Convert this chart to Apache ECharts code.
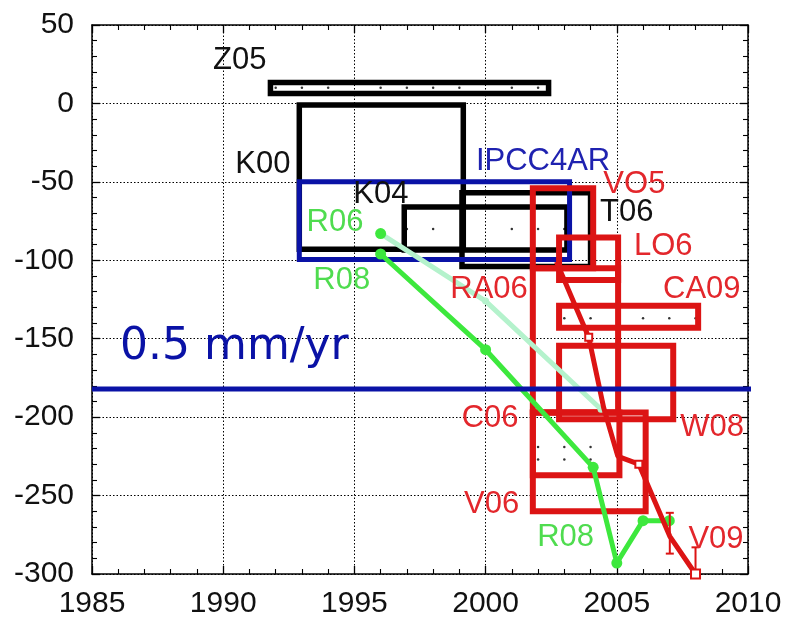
<!DOCTYPE html>
<html>
<head>
<meta charset="utf-8">
<script src="https://cdn.jsdelivr.net/npm/echarts@6/dist/echarts.min.js"></script>
<style>
  html, body { margin: 0; padding: 0; background: #fff; }
  #chart { width: 786px; height: 622px; }
</style>
</head>
<body>
<div id="chart"></div>
<script>
// ---- axis ranges ----
const yearRange = [1985, 2010];
const yearStep = 5;
const valueRange = [-300, 50];
const valueStep = 50;

// ---- estimate boxes: [start year, end year, upper value, lower value] ----
const Z05 = [1991.8, 2002.4, 13.4, 6.4];
const K00 = [1992.9, 1999.15, -1, -93];
const K04 = [1996.9, 2003.1, -66, -93.5];
const T06 = [1999.1, 2004.0, -57, -104];
const IPCC4AR = [1992.9, 2003.2, -50, -99.5];
const VO5 = [2001.8, 2004.1, -54, -105];
const LO6 = [2002.8, 2005.05, -85.5, -112.5];
const RA06 = [2001.8, 2005.05, -105, -197];
const CA09 = [2002.8, 2008.1, -129, -143];
const W08 = [2002.8, 2007.15, -154.5, -201.3];
const C06 = [2001.8, 2005.1, -197, -237];
const V06 = [2001.8, 2006.1, -197, -260];

// ---- small sample points inside some boxes ----
const Z05DotYears = [1992, 1993, 1994, 1996, 1997, 1998, 1999, 2001, 2002];
const Z05DotValue = 10;
const K04DotYears = [1997, 1998, 2001, 2002, 2003];
const K04DotValue = -80;
const CA09DotYears = [2003, 2004, 2006, 2007, 2008];
const CA09DotValue = -137;
const C06DotYears = [2002, 2003, 2004];
const C06DotValues = [-219, -227];

// ---- time series ----
const R06Years = [1996, 2000, 2004.4];
const R06Values = [-83, -126, -195];
const R08Years = [1996, 2000, 2004.1, 2005, 2006, 2007];
const R08Values = [-96, -157, -232, -293, -266, -266];
const V09Years = [2002.7, 2003.93, 2004.5, 2005.04, 2005.84, 2007.02, 2008.0];
const V09Values = [-101, -149, -194, -225, -230, -276, -300];
const V09ErrYears = [2007.02, 2008.0];
const V09ErrHigh = [-261, -283];
const V09ErrLow = [-287, -317];

// ---- reference rate line ----
const rateLevel = -182;
const rateText = '0.5 mm/yr';

// ---- annotation text and where it sits (year, value) ----
const blackLabels = [['Z05', 1990.63, 27.4], ['K00', 1991.51, -38.9], ['K04', 1996.01, -58], ['T06', 2005.38, -69.7]];
const blueLabels = [['IPCC4AR', 2002.19, -36.9]];
const redLabels = [['VO5', 2005.67, -51.6], ['LO6', 2006.77, -91.1], ['CA09', 2008.24, -118.5], ['RA06', 2000.13, -118.5],
                   ['C06', 2000.17, -200.6], ['W08', 2008.63, -206.7], ['V06', 2000.23, -255.4], ['V09', 2008.78, -277.7]];
const greenLabels = [['R06', 1994.26, -76.1], ['R08', 1994.52, -112.7], ['R08', 2003.05, -276.8]];
const rateLabelAt = [1986.07, -155.4];

const BLACK = '#000000';
const BLUE = '#0a12a6';
const RED = '#dc1414';
const RED_TEXT = '#e3272c';
const GREEN = '#3de83d';
const GREEN_TEXT = '#4fdc4f';
const PALE = '#b4f2cc';
const FONT = '"Liberation Sans", Arial, sans-serif';

function boxSeries(boxes, color, width, z) {
  return {
    type: 'custom', z: z, silent: true,
    data: boxes,
    encode: { x: [0, 1], y: [2, 3] },
    renderItem(params, api) {
      const a = api.coord([api.value(0), api.value(2)]);
      const b = api.coord([api.value(1), api.value(3)]);
      return {
        type: 'rect',
        shape: { x: a[0], y: a[1], width: b[0] - a[0], height: b[1] - a[1] },
        style: { fill: 'none', stroke: color, lineWidth: width, lineJoin: 'miter' }
      };
    }
  };
}

function labelSeries(items, color, size, family, align, z) {
  return {
    type: 'custom', z: z, silent: true,
    data: items.map(it => [it[1], it[2]]),
    encode: { x: 0, y: 1 },
    clip: false,
    renderItem(params, api) {
      const p = api.coord([api.value(0), api.value(1)]);
      return {
        type: 'text',
        x: p[0], y: p[1],
        style: {
          text: items[params.dataIndex][0], fill: color,
          font: size + 'px ' + family, align: align, verticalAlign: 'middle'
        }
      };
    }
  };
}

function zip(xs, ys) { return xs.map((x, i) => [x, ys[i]]); }
function dotRow(years, value) { return years.map(y => [y, value]); }

const dots = []
  .concat(dotRow(Z05DotYears, Z05DotValue))
  .concat(dotRow(K04DotYears, K04DotValue))
  .concat(dotRow(CA09DotYears, CA09DotValue))
  .concat(dotRow(C06DotYears, C06DotValues[0]))
  .concat(dotRow(C06DotYears, C06DotValues[1]));

const r06Data = zip(R06Years, R06Values).map((p, i) => ({
  value: p,
  symbol: 'circle',
  symbolSize: i === 0 ? 11 : 7,
  itemStyle: { color: i === 0 ? GREEN : PALE }
}));

const v09Data = zip(V09Years, V09Values).map((p, i) => {
  const marked = (i === 1 || i === 4 || i === 6);
  return {
    value: p,
    symbol: marked ? 'emptyRect' : 'none',
    symbolSize: i === 6 ? 9 : 7
  };
});

const axisCommon = {
  type: 'value',
  axisLine: { show: true, onZero: false, lineStyle: { color: '#000', width: 1.5 } },
  axisTick: { show: true, inside: true, length: 8, lineStyle: { color: '#000', width: 1.3 } },
  minorTick: { show: true, splitNumber: 5, length: 5, lineStyle: { color: '#000', width: 1.1 } }
};

const chart = echarts.init(document.getElementById('chart'), null, { renderer: 'canvas' });
chart.setOption({
  animation: false,
  backgroundColor: '#fff',
  grid: { left: 92, right: 38, top: 25, bottom: 48, containLabel: false },
  xAxis: [
    Object.assign({}, axisCommon, {
      min: yearRange[0], max: yearRange[1], interval: yearStep, position: 'bottom',
      axisLabel: { fontFamily: FONT, fontSize: 30, color: '#111', margin: 15, formatter: v => String(v) },
      splitLine: { show: true, lineStyle: { color: '#000', width: 1, type: [1.5, 2] } }
    }),
    Object.assign({}, axisCommon, {
      min: yearRange[0], max: yearRange[1], interval: yearStep, position: 'top',
      axisLabel: { show: false }, splitLine: { show: false }
    })
  ],
  yAxis: [
    Object.assign({}, axisCommon, {
      min: valueRange[0], max: valueRange[1], interval: valueStep, position: 'left',
      axisLabel: { fontFamily: FONT, fontSize: 30, color: '#111', margin: 18, formatter: v => String(v) },
      splitLine: { show: true, lineStyle: { color: '#000', width: 1, type: [1.5, 2] } }
    }),
    Object.assign({}, axisCommon, {
      min: valueRange[0], max: valueRange[1], interval: valueStep, position: 'right',
      axisLabel: { show: false }, splitLine: { show: false }
    })
  ],
  series: [
    {
      type: 'scatter', z: 2, silent: true, data: dots,
      symbol: 'circle', symbolSize: 2.5, itemStyle: { color: '#000' }
    },
    boxSeries([Z05, K00, K04, T06], BLACK, 5.5, 3),
    boxSeries([IPCC4AR], BLUE, 5, 4),
    boxSeries([VO5, LO6, RA06, CA09, W08, C06, V06], RED, 6, 5),
    {
      type: 'line', z: 6, silent: true, data: r06Data,
      lineStyle: { color: PALE, width: 5 }
    },
    {
      type: 'line', z: 7, silent: true, data: zip(R08Years, R08Values),
      symbol: 'circle', symbolSize: 11,
      itemStyle: { color: GREEN }, lineStyle: { color: GREEN, width: 5 }
    },
    {
      type: 'custom', z: 8, silent: true, clip: true,
      data: V09ErrYears.map((y, i) => [y, V09ErrLow[i], V09ErrHigh[i]]),
      encode: { x: 0, y: [1, 2] },
      renderItem(params, api) {
        const lo = api.coord([api.value(0), api.value(1)]);
        const hi = api.coord([api.value(0), api.value(2)]);
        const w = 4;
        return {
          type: 'group',
          children: [
            { type: 'line', shape: { x1: lo[0], y1: lo[1], x2: hi[0], y2: hi[1] }, style: { stroke: RED, lineWidth: 2 } },
            { type: 'line', shape: { x1: lo[0] - w, y1: lo[1], x2: lo[0] + w, y2: lo[1] }, style: { stroke: RED, lineWidth: 2 } },
            { type: 'line', shape: { x1: hi[0] - w, y1: hi[1], x2: hi[0] + w, y2: hi[1] }, style: { stroke: RED, lineWidth: 2 } }
          ]
        };
      }
    },
    {
      type: 'line', z: 9, silent: true, data: v09Data,
      itemStyle: { color: RED, borderWidth: 2 }, lineStyle: { color: RED, width: 5 }
    },
    {
      type: 'line', z: 10, silent: true, clip: false,
      data: [[yearRange[0], rateLevel], [yearRange[1] + 0.2, rateLevel]],
      symbol: 'none', lineStyle: { color: BLUE, width: 5 }
    },
    labelSeries(blackLabels, '#111', 31, FONT, 'center', 20),
    labelSeries(blueLabels, '#1f22b0', 31, FONT, 'center', 20),
    labelSeries(redLabels, RED_TEXT, 31, FONT, 'center', 20),
    labelSeries(greenLabels, GREEN_TEXT, 31, FONT, 'center', 20),
    labelSeries([[rateText, rateLabelAt[0], rateLabelAt[1]]], BLUE, 44, '"DejaVu Sans", Verdana, sans-serif', 'left', 20)
  ]
});
</script>
</body>
</html>
